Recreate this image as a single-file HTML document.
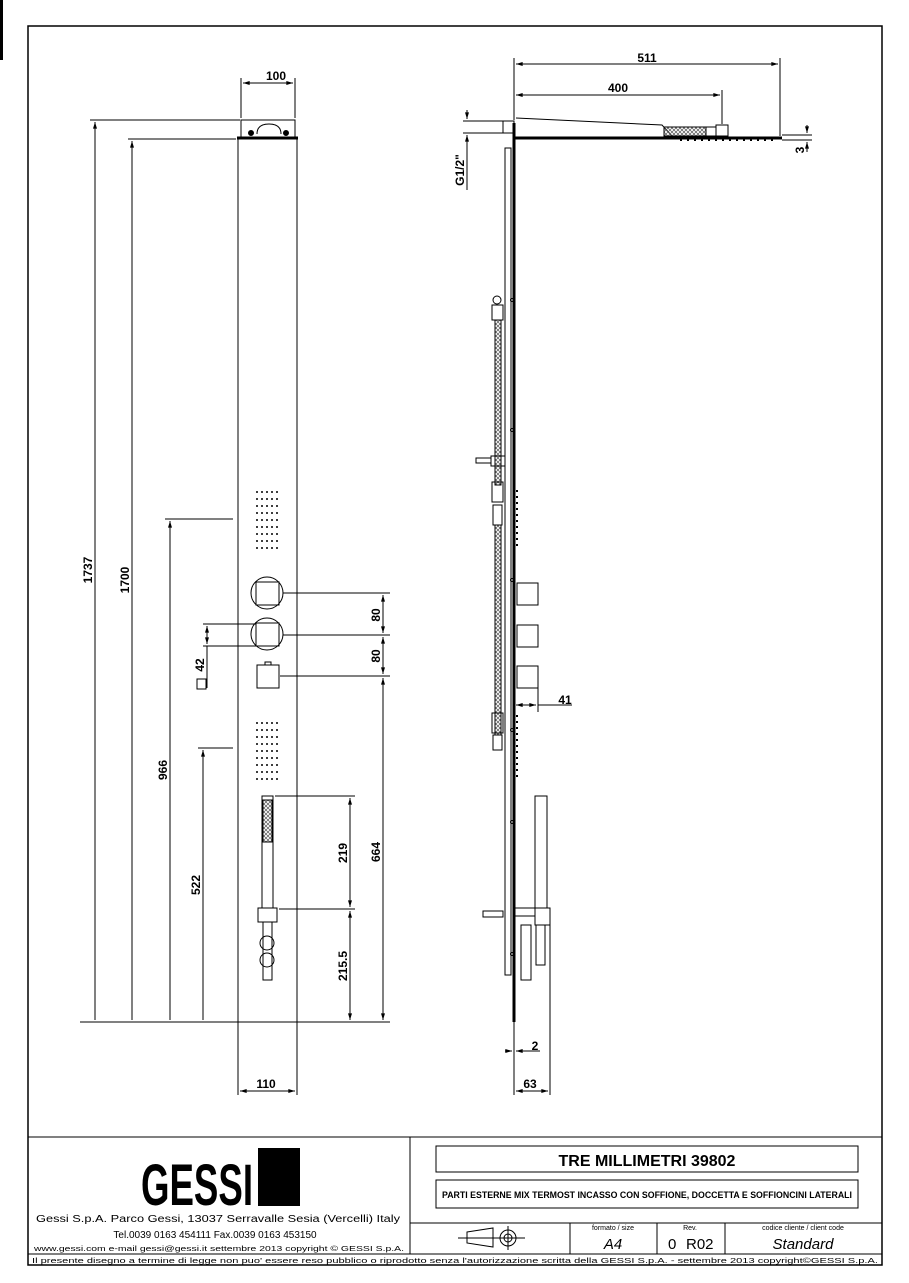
<!DOCTYPE html>
<html><head><meta charset="utf-8"><style>
html,body{margin:0;padding:0;background:#fff;}
svg{display:block;font-family:"Liberation Sans",sans-serif;}
</style></head><body>
<svg width="909" height="1283" viewBox="0 0 909 1283" xmlns="http://www.w3.org/2000/svg">
<defs>
<marker id="a" viewBox="0 0 10 6" refX="10" refY="3" markerWidth="8" markerHeight="4" orient="auto-start-reverse" markerUnits="userSpaceOnUse"><path d="M0,0L10,3L0,6z" fill="#000"/></marker>
<pattern id="dots" width="5" height="7" patternUnits="userSpaceOnUse"><circle cx="2" cy="2" r="1" fill="#000"/></pattern>
<pattern id="hatch" width="4" height="4" patternUnits="userSpaceOnUse"><path d="M0,0L4,4M4,0L0,4" stroke="#555" stroke-width="0.7"/></pattern>
</defs>
<rect x="0" y="0" width="3" height="60" fill="#000"/>
<rect x="28" y="26" width="854" height="1239" fill="none" stroke="#000" stroke-width="1.5"/>
<g stroke="#000" fill="none" stroke-width="1">
<!-- FRONT VIEW -->
<rect x="238" y="139" width="59" height="883"/>
<rect x="241" y="120" width="54" height="17"/>
<line x1="237" y1="138" x2="298" y2="138" stroke-width="3"/>
<path d="M257,134 q0,-10 12,-10 q12,0 12,10" />
<circle cx="251" cy="133" r="2.5" fill="#000"/><circle cx="286" cy="133" r="2.5" fill="#000"/>
<!-- dims left -->
<line x1="95" y1="1020" x2="95" y2="122" marker-end="url(#a)"/>
<line x1="90" y1="120" x2="240" y2="120"/>
<line x1="132" y1="1020" x2="132" y2="141" marker-end="url(#a)"/>
<line x1="128" y1="139" x2="236" y2="139"/>
<line x1="170" y1="1020" x2="170" y2="521" marker-end="url(#a)"/>
<line x1="165" y1="519" x2="233" y2="519"/>
<line x1="203" y1="1020" x2="203" y2="750" marker-end="url(#a)"/>
<line x1="198" y1="748" x2="233" y2="748"/>
<line x1="80" y1="1022" x2="390" y2="1022"/>
<!-- 100 -->
<line x1="241" y1="118" x2="241" y2="78"/><line x1="295" y1="118" x2="295" y2="78"/>
<line x1="243" y1="83" x2="293" y2="83" marker-start="url(#a)" marker-end="url(#a)"/>
<!-- jets -->
<rect x="253" y="487" width="25" height="63" fill="url(#dots)" stroke="none"/>
<rect x="253" y="717" width="25" height="63" fill="url(#dots)" stroke="none"/>
<!-- controls -->
<circle cx="267" cy="593" r="16"/><rect x="256" y="582" width="23" height="23"/>
<circle cx="267" cy="634" r="16"/><rect x="256" y="623" width="23" height="23"/>
<rect x="257" y="665" width="22" height="23"/><rect x="265" y="662" width="6" height="3"/>
<line x1="283" y1="593" x2="390" y2="593"/>
<line x1="283" y1="635" x2="390" y2="635"/>
<line x1="280" y1="676" x2="390" y2="676"/>
<line x1="383" y1="595" x2="383" y2="633" marker-start="url(#a)" marker-end="url(#a)"/>
<line x1="383" y1="637" x2="383" y2="674" marker-start="url(#a)" marker-end="url(#a)"/>
<line x1="383" y1="678" x2="383" y2="1020" marker-start="url(#a)" marker-end="url(#a)"/>
<!-- 42 -->
<line x1="203" y1="624" x2="256" y2="624"/><line x1="203" y1="646" x2="256" y2="646"/>
<line x1="207" y1="626" x2="207" y2="644" marker-start="url(#a)" marker-end="url(#a)"/>
<line x1="207" y1="646" x2="207" y2="688"/>
<rect x="197" y="679" width="9" height="10"/>
<!-- handshower -->
<rect x="262" y="796" width="11" height="112"/>
<rect x="263" y="800" width="9" height="42" fill="url(#hatch)"/>
<rect x="258" y="908" width="19" height="14"/>
<rect x="263" y="922" width="9" height="58"/>
<circle cx="267" cy="943" r="7"/><circle cx="267" cy="960" r="7"/>
<line x1="275" y1="796" x2="355" y2="796"/>
<line x1="279" y1="909" x2="355" y2="909"/>
<line x1="350" y1="798" x2="350" y2="907" marker-start="url(#a)" marker-end="url(#a)"/>
<line x1="350" y1="911" x2="350" y2="1020" marker-start="url(#a)" marker-end="url(#a)"/>
<!-- 110 -->
<line x1="238" y1="1022" x2="238" y2="1095"/><line x1="297" y1="1022" x2="297" y2="1095"/>
<line x1="240" y1="1091" x2="295" y2="1091" marker-start="url(#a)" marker-end="url(#a)"/>

<!-- SIDE VIEW -->
<line x1="514" y1="123" x2="514" y2="1022" stroke-width="3"/>
<rect x="505" y="148" width="6" height="827"/>
<line x1="514" y1="138" x2="782" y2="138" stroke-width="3"/>
<path d="M516,118 L662,125 L672,136" />
<rect x="664" y="127" width="42" height="9" fill="url(#hatch)"/>
<rect x="706" y="127" width="10" height="9"/><rect x="716" y="125" width="12" height="11"/>
<line x1="680" y1="140" x2="775" y2="140" stroke-dasharray="2,5" stroke-width="2"/>
<rect x="503" y="121" width="11" height="12"/>
<line x1="463" y1="121" x2="503" y2="121"/><line x1="463" y1="133" x2="503" y2="133"/>
<line x1="467" y1="110" x2="467" y2="119" marker-end="url(#a)"/>
<line x1="467" y1="144" x2="467" y2="135" marker-end="url(#a)"/>
<line x1="467" y1="135" x2="467" y2="190"/>
<!-- 511/400 -->
<line x1="514" y1="120" x2="514" y2="58"/>
<line x1="780" y1="136" x2="780" y2="58"/>
<line x1="516" y1="64" x2="778" y2="64" marker-start="url(#a)" marker-end="url(#a)"/>
<line x1="722" y1="124" x2="722" y2="90"/>
<line x1="516" y1="95" x2="720" y2="95" marker-start="url(#a)" marker-end="url(#a)"/>
<!-- 3 -->
<line x1="782" y1="135" x2="812" y2="135"/><line x1="782" y1="140" x2="812" y2="140"/>
<line x1="807" y1="125" x2="807" y2="133" marker-end="url(#a)"/>
<line x1="807" y1="152" x2="807" y2="142" marker-end="url(#a)"/>
<!-- hoses -->
<rect x="495" y="320" width="6" height="165" fill="url(#hatch)"/>
<rect x="495" y="525" width="6" height="210" fill="url(#hatch)"/>
<rect x="492" y="305" width="11" height="15"/><circle cx="497" cy="300" r="4"/>
<rect x="492" y="482" width="11" height="20"/><rect x="493" y="505" width="9" height="20"/>
<rect x="492" y="713" width="11" height="20"/><rect x="493" y="735" width="9" height="15"/>
<rect x="476" y="458" width="15" height="5"/><rect x="491" y="456" width="14" height="10"/>
<line x1="517" y1="490" x2="517" y2="550" stroke-dasharray="2,4" stroke-width="2"/>
<line x1="517" y1="715" x2="517" y2="780" stroke-dasharray="2,4" stroke-width="2"/>
<!-- boxes -->
<rect x="517" y="583" width="21" height="22"/>
<rect x="517" y="625" width="21" height="22"/>
<rect x="517" y="666" width="21" height="22"/>
<line x1="538" y1="688" x2="538" y2="712"/>
<line x1="516" y1="705" x2="536" y2="705" marker-start="url(#a)" marker-end="url(#a)"/>
<line x1="538" y1="705" x2="572" y2="705"/>
<!-- handshower side -->
<rect x="535" y="796" width="12" height="112"/>
<rect x="535" y="908" width="15" height="17"/>
<rect x="536" y="925" width="9" height="40"/>
<rect x="515" y="908" width="20" height="8"/>
<rect x="521" y="925" width="10" height="55"/>
<rect x="483" y="911" width="20" height="6"/>
<circle cx="512" cy="300" r="1.5"/><circle cx="512" cy="430" r="1.5"/><circle cx="512" cy="580" r="1.5"/><circle cx="512" cy="730" r="1.5"/><circle cx="512" cy="822" r="1.5"/><circle cx="512" cy="954" r="1.5"/>
<!-- 2 / 63 -->
<line x1="514" y1="1022" x2="514" y2="1095"/>
<line x1="550" y1="925" x2="550" y2="1095"/>
<line x1="505" y1="1051" x2="512" y2="1051" marker-end="url(#a)"/>
<line x1="525" y1="1051" x2="516" y2="1051" marker-end="url(#a)"/>
<line x1="525" y1="1051" x2="540" y2="1051"/>
<line x1="516" y1="1091" x2="548" y2="1091" marker-start="url(#a)" marker-end="url(#a)"/>

<!-- TITLE BLOCK -->
<line x1="28" y1="1137" x2="882" y2="1137"/>
<line x1="410" y1="1137" x2="410" y2="1254"/>
<line x1="28" y1="1254" x2="882" y2="1254"/>
<rect x="436" y="1146" width="422" height="26"/>
<rect x="436" y="1180" width="422" height="28"/>
<line x1="410" y1="1223" x2="882" y2="1223"/>
<line x1="570" y1="1223" x2="570" y2="1254"/>
<line x1="657" y1="1223" x2="657" y2="1254"/>
<line x1="725" y1="1223" x2="725" y2="1254"/>
<path d="M467,1232 L493,1228 L493,1247 L467,1243z"/>
<circle cx="508" cy="1238" r="8"/><circle cx="508" cy="1238" r="4"/>
<line x1="458" y1="1238" x2="525" y2="1238"/><line x1="508" y1="1226" x2="508" y2="1250"/>
</g>
<rect x="258" y="1148" width="42" height="58" fill="#000"/>
<text x="197" y="1205" font-size="58" font-weight="bold" text-anchor="middle" textLength="112" lengthAdjust="spacingAndGlyphs" transform="scale(1,1)" style="font-stretch:condensed">GESSI</text>
<g font-weight="bold" fill="#000">
<text x="276" y="80" font-size="12" text-anchor="middle">100</text>
<text x="647" y="62" font-size="12" text-anchor="middle">511</text>
<text x="618" y="92" font-size="12" text-anchor="middle">400</text>
<text x="565" y="704" font-size="12" text-anchor="middle">41</text>
<text x="535" y="1050" font-size="12" text-anchor="middle">2</text>
<text x="530" y="1088" font-size="12" text-anchor="middle">63</text>
<text x="266" y="1088" font-size="12" text-anchor="middle">110</text>
<text font-size="12" text-anchor="middle" transform="translate(92,570) rotate(-90)">1737</text>
<text font-size="12" text-anchor="middle" transform="translate(129,580) rotate(-90)">1700</text>
<text font-size="12" text-anchor="middle" transform="translate(167,770) rotate(-90)">966</text>
<text font-size="12" text-anchor="middle" transform="translate(200,885) rotate(-90)">522</text>
<text font-size="12" text-anchor="middle" transform="translate(204,665) rotate(-90)">42</text>
<text font-size="12" text-anchor="middle" transform="translate(380,615) rotate(-90)">80</text>
<text font-size="12" text-anchor="middle" transform="translate(380,656) rotate(-90)">80</text>
<text font-size="12" text-anchor="middle" transform="translate(380,852) rotate(-90)">664</text>
<text font-size="12" text-anchor="middle" transform="translate(347,853) rotate(-90)">219</text>
<text font-size="12" text-anchor="middle" transform="translate(347,966) rotate(-90)">215.5</text>
<text font-size="12" text-anchor="middle" transform="translate(464,170) rotate(-90)">G1/2"</text>
<text font-size="12" text-anchor="middle" transform="translate(804,150) rotate(-90)">3</text>
<text x="647" y="1166" font-size="16" text-anchor="middle">TRE MILLIMETRI  39802</text>
<text x="647" y="1198" font-size="9" text-anchor="middle" textLength="410" lengthAdjust="spacingAndGlyphs">PARTI ESTERNE MIX TERMOST INCASSO CON SOFFIONE, DOCCETTA E SOFFIONCINI LATERALI</text>
</g>
<g font-size="10" fill="#000">
<text x="36" y="1222" textLength="364" lengthAdjust="spacingAndGlyphs">Gessi S.p.A. Parco Gessi, 13037 Serravalle Sesia (Vercelli) Italy</text>
<text x="215" y="1238" text-anchor="middle" font-size="10">Tel.0039 0163 454111 Fax.0039 0163 453150</text>
<text x="34" y="1251" font-size="7.5" textLength="370" lengthAdjust="spacingAndGlyphs">www.gessi.com e-mail gessi@gessi.it settembre 2013 copyright © GESSI S.p.A.</text>
<text x="32" y="1263" font-size="7.5" textLength="846" lengthAdjust="spacingAndGlyphs">Il presente disegno a termine di legge non puo' essere reso pubblico o riprodotto senza l'autorizzazione scritta della GESSI S.p.A. - settembre 2013 copyright©GESSI S.p.A.</text>
<text x="613" y="1230" font-size="7" text-anchor="middle">formato / size</text>
<text x="690" y="1230" font-size="7" text-anchor="middle">Rev.</text>
<text x="803" y="1230" font-size="7" text-anchor="middle">codice cliente / client code</text>
<text x="613" y="1249" font-size="15" font-style="italic" text-anchor="middle">A4</text>
<text x="668" y="1249" font-size="15">0</text>
<text x="686" y="1249" font-size="15">R02</text>
<text x="803" y="1249" font-size="15" font-style="italic" text-anchor="middle">Standard</text>
</g>
</svg>
</body></html>
